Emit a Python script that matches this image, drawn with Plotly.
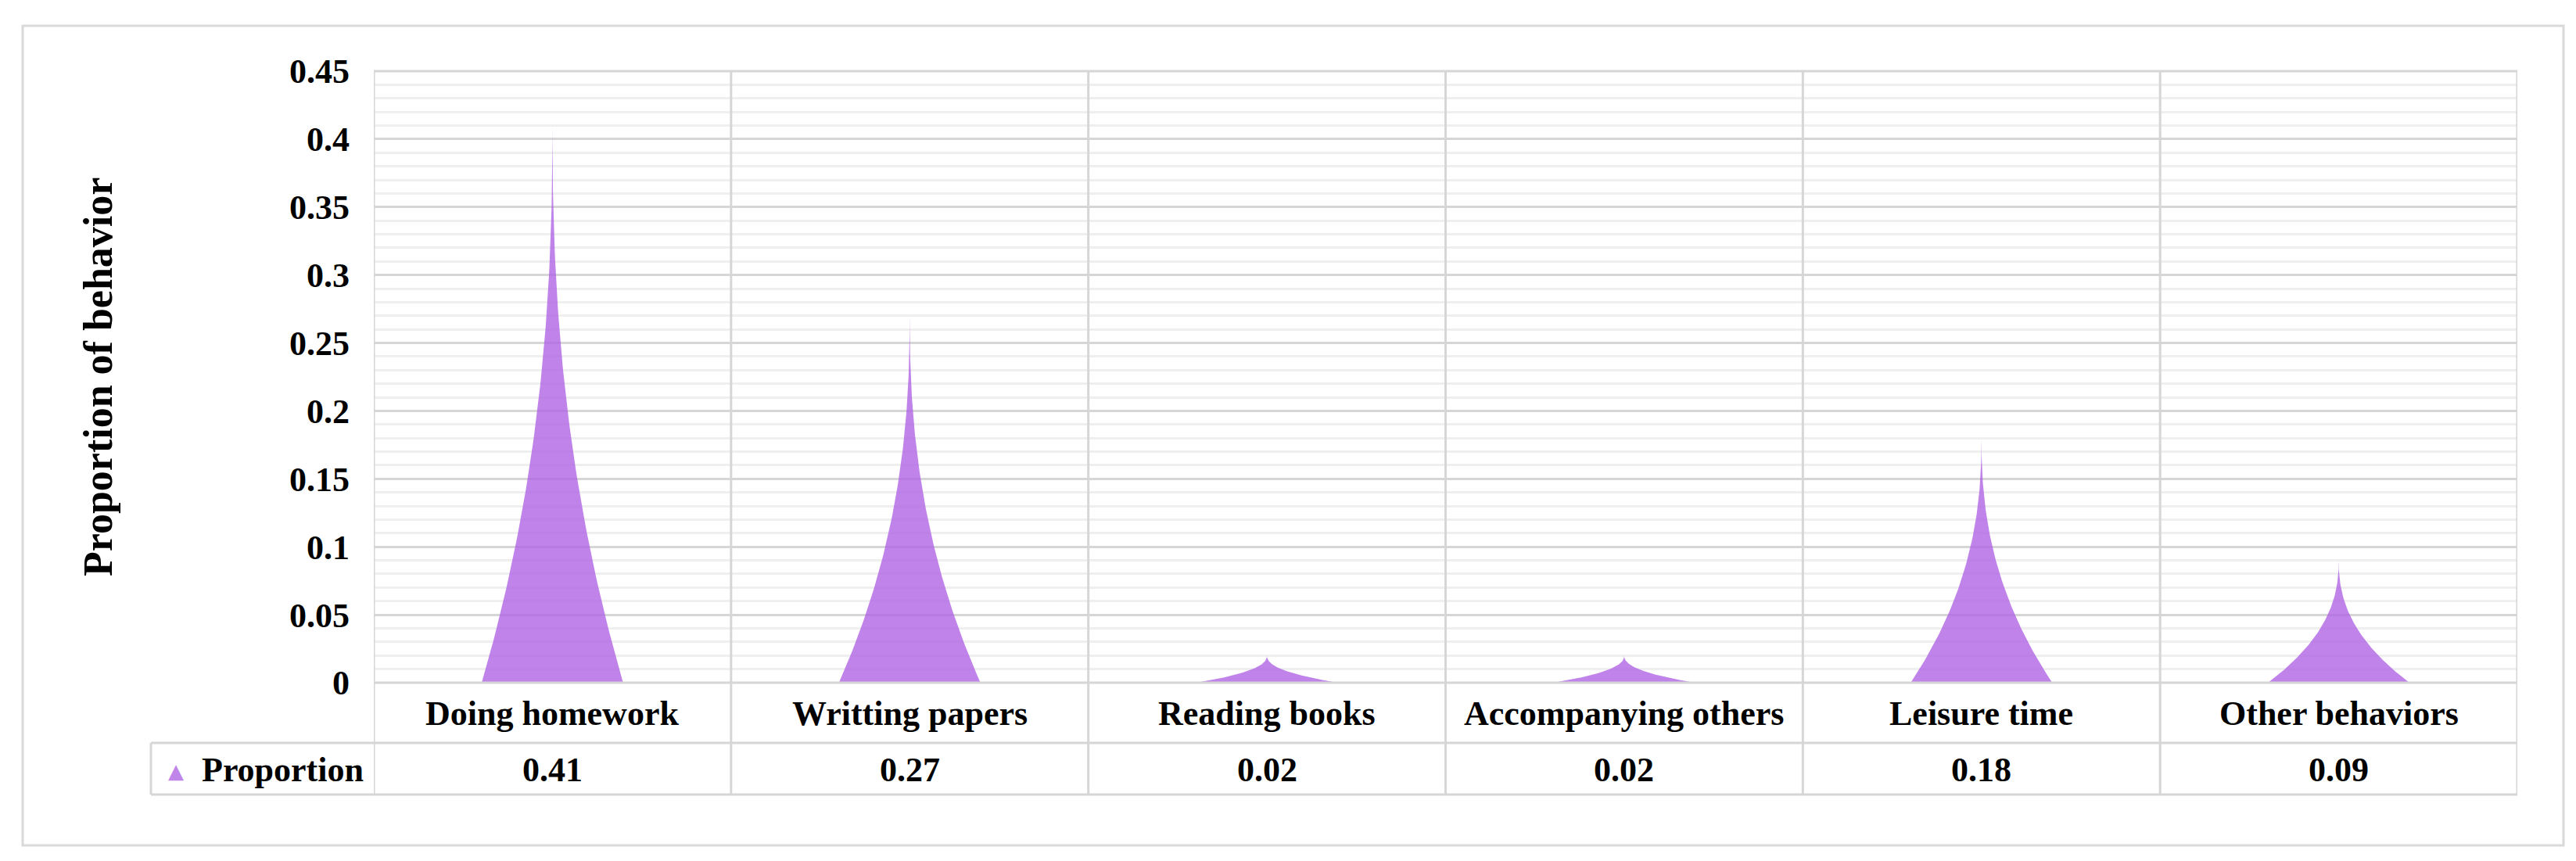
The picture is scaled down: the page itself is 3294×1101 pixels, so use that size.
import numpy as np
import plotly.graph_objects as go

# Data
categories = ["Doing homework", "Writting papers", "Reading books",
              "Accompanying others", "Leisure time", "Other behaviors"]
proportion = [0.41, 0.27, 0.02, 0.02, 0.18, 0.09]
series_name = "Proportion"
y_ticks = [0, 0.05, 0.1, 0.15, 0.2, 0.25, 0.3, 0.35, 0.4, 0.45]
y_ticktext = ["0", "0.05", "0.1", "0.15", "0.2", "0.25", "0.3", "0.35", "0.4", "0.45"]

FONT = "Liberation Serif"
FILL = "rgba(175, 100, 228, 0.8)"
GRID = "#d6d6d6"
MINOR = "#efefef"

# figure geometry (pixels)
W, H = 3294, 1101
L, R, T, B = 470, 83, 83, 236
pw, ph = W - L - R, H - T - B

def px_x(px):
    return (px - L) / pw

def px_y(py):
    return (H - B - py) / ph

fig = go.Figure()

# pointed (concave) column shapes
half_w = 0.198
power = 2.3
t = np.linspace(0, 1, 80)
for i, v in enumerate(proportion):
    xl = i - half_w * (1 - t) ** power
    xr = i + half_w * (1 - t) ** power
    xs = np.concatenate([xl, xr[::-1]])
    ys = np.concatenate([v * t, (v * t)[::-1]])
    fig.add_trace(go.Scatter(x=xs, y=ys, mode="lines", fill="toself",
                             fillcolor=FILL, line=dict(width=0),
                             hoverinfo="skip", showlegend=False))

n = len(categories)
fig.update_xaxes(range=[-0.5, n - 0.5], showgrid=False, zeroline=False,
                 showticklabels=False, ticks="", showline=False)
fig.update_yaxes(range=[0, 0.45], tickvals=y_ticks, ticktext=y_ticktext,
                 showgrid=True, gridcolor=GRID, gridwidth=3,
                 minor=dict(dtick=0.01, showgrid=True, gridcolor=MINOR, gridwidth=3),
                 zeroline=False, ticks="", ticklabelstandoff=30,
                 tickfont=dict(family=FONT, size=44, color="black", weight="bold"),
                 showline=False)

shapes = []
line = dict(color=GRID, width=3)
tbl_mid = px_y(942)
tbl_bot = px_y(1008)
tbl_left = px_x(185)
# vertical dividers through plot and table
for k in range(n + 1):
    shapes.append(dict(type="line", xref="x", yref="paper", x0=k - 0.5, x1=k - 0.5,
                       y0=tbl_bot, y1=1, line=line, layer="above"))
# top of plot area
shapes.append(dict(type="line", xref="paper", yref="paper", x0=0, x1=1, y0=1, y1=1, line=line))
# bottom of plot (0 line)
shapes.append(dict(type="line", xref="paper", yref="paper", x0=0, x1=1, y0=0, y1=0, line=line))
# table rows
shapes.append(dict(type="line", xref="paper", yref="paper", x0=tbl_left, x1=1,
                   y0=tbl_mid, y1=tbl_mid, line=line))
shapes.append(dict(type="line", xref="paper", yref="paper", x0=tbl_left, x1=1,
                   y0=tbl_bot, y1=tbl_bot, line=line))
shapes.append(dict(type="line", xref="paper", yref="paper", x0=tbl_left, x1=tbl_left,
                   y0=tbl_bot, y1=tbl_mid, line=line))
# outer chart border
shapes.append(dict(type="rect", xref="paper", yref="paper",
                   x0=px_x(21), x1=px_x(3270), y0=px_y(1073), y1=px_y(25),
                   line=dict(color="#d9d9d9", width=3)))

annotations = []
txt = dict(family=FONT, size=44, color="black", weight="bold")
for i, (c, v) in enumerate(zip(categories, proportion)):
    annotations.append(dict(x=i, y=px_y(904), xref="x", yref="paper", text=c,
                            showarrow=False, font=txt, xanchor="center", yanchor="middle"))
    annotations.append(dict(x=i, y=px_y(976), xref="x", yref="paper", text=f"{v:.2f}",
                            showarrow=False, font=txt, xanchor="center", yanchor="middle"))
# legend key in table
annotations.append(dict(x=px_x(459), y=px_y(976), xref="paper", yref="paper", text=series_name,
                        showarrow=False, font=txt, xanchor="right", yanchor="middle"))
annotations.append(dict(x=px_x(217), y=px_y(978), xref="paper", yref="paper", text="▲",
                        showarrow=False, font=dict(family="DejaVu Sans", size=26, color=FILL),
                        xanchor="center", yanchor="middle"))
# y axis title
annotations.append(dict(x=px_x(117), y=0.5, xref="paper", yref="paper",
                        text="Proportion of behavior", textangle=-90, showarrow=False,
                        font=dict(family=FONT, size=52, color="black", weight="bold"),
                        xanchor="center", yanchor="middle"))

fig.update_layout(width=W, height=H, margin=dict(l=L, r=R, t=T, b=B),
                  paper_bgcolor="white", plot_bgcolor="white",
                  shapes=shapes, annotations=annotations, showlegend=False)

fig.write_html("out.html")
